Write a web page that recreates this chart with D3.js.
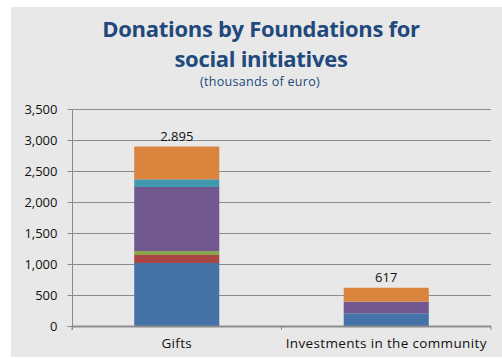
<!DOCTYPE html>
<html>
<head>
<meta charset="utf-8">
<script src="https://cdn.jsdelivr.net/npm/d3@7"></script>
<style>
  html, body { margin: 0; padding: 0; background: #ffffff; }
  svg { display: block; }
  text { font-family: "Open Sans", "DejaVu Sans", sans-serif; }
</style>
</head>
<body>
<svg id="chart" width="502" height="358"></svg>
<script>
// Donations by category, thousands of euro
const categories = ["Gifts", "Investments in the community"];
const seriesNames = ["s1", "s2", "s3", "s4", "s5", "s6"];
const seriesColors = ["#4572a7", "#aa4643", "#89a54e", "#71588f", "#4198af", "#db843d"];
// values per series, one entry per category
const s1 = [1016, 205];
const s2 = [129, 0];
const s3 = [65, 0];
const s4 = [1032, 187];
const s5 = [124, 0];
const s6 = [529, 225];
const totals = [2895, 617];
const totalLabels = ["2.895", "617"];
const yTicks = [0, 500, 1000, 1500, 2000, 2500, 3000, 3500];

const seriesValues = [s1, s2, s3, s4, s5, s6];
const rows = categories.map((c, i) => {
  const r = { category: c };
  seriesNames.forEach((n, k) => { r[n] = seriesValues[k][i]; });
  return r;
});

const svg = d3.select("#chart");
const W = 502, H = 358;

// panel background
svg.append("rect").attr("x", 11).attr("y", 7).attr("width", W - 11).attr("height", 350)
  .attr("fill", "#e8e8e8");

// titles
svg.append("text").attr("x", 261).attr("y", 37).attr("text-anchor", "middle")
  .attr("font-size", 22).attr("font-weight", 700).attr("fill", "#21497b")
  .attr("letter-spacing", "-0.3")
  .text("Donations by Foundations for");
svg.append("text").attr("x", 261).attr("y", 67).attr("text-anchor", "middle")
  .attr("font-size", 22).attr("font-weight", 700).attr("fill", "#21497b")
  .attr("letter-spacing", "-0.3")
  .text("social initiatives");
svg.append("text").attr("x", 260).attr("y", 86).attr("text-anchor", "middle")
  .attr("font-size", 12.5).attr("fill", "#21497b").attr("letter-spacing", "0.3")
  .text("(thousands of euro)");

const m = { left: 72, right: 491, top: 109, bottom: 326 };

const x = d3.scaleBand().domain(categories).range([m.left, m.right]).padding(0);
const y = d3.scaleLinear().domain([0, 3500]).range([m.bottom, m.top]);

// gridlines
svg.append("g").selectAll("line").data(yTicks.filter(t => t > 0)).join("line")
  .attr("x1", m.left).attr("x2", m.right)
  .attr("y1", d => Math.round(y(d)) + 0.5).attr("y2", d => Math.round(y(d)) + 0.5)
  .attr("stroke", "#8c8c8c").attr("stroke-width", 1);

// y axis
const yAxis = d3.axisLeft(y).tickValues(yTicks).tickSize(5).tickPadding(10)
  .tickFormat(d3.format(","));
const gy = svg.append("g").attr("transform", `translate(${m.left + 0.5},0)`).call(yAxis);
gy.select(".domain").attr("stroke", "#8c8c8c").attr("d", `M0,${m.top}V${m.bottom + 4}`);
gy.selectAll(".tick line").attr("stroke", "#8c8c8c");
gy.selectAll(".tick text").attr("font-size", 13).attr("fill", "#111")
  .attr("font-family", "'Open Sans', sans-serif");

// stacked bars
const stack = d3.stack().keys(seriesNames);
const layers = stack(rows);
const barW = x.bandwidth() * 0.406;
svg.append("g").selectAll("g").data(layers).join("g")
  .attr("fill", (d, i) => seriesColors[i])
  .selectAll("rect").data(d => d).join("rect")
  .attr("x", d => x(d.data.category) + (x.bandwidth() - barW) / 2)
  .attr("width", barW)
  .attr("y", d => y(d[1]))
  .attr("height", d => y(d[0]) - y(d[1]));

// x axis
const xAxis = d3.axisBottom(x).tickSize(0).tickPadding(12);
const gx = svg.append("g").attr("transform", `translate(0,${m.bottom})`).call(xAxis);
gx.select(".domain").remove();
gx.append("line").attr("x1", m.left).attr("x2", m.right).attr("y1", 0.5).attr("y2", 0.5)
  .attr("stroke", "#8c8c8c").attr("stroke-width", 2);
gx.selectAll(".sep").data([m.left, m.left + x.step(), m.right]).join("line")
  .attr("class", "sep")
  .attr("x1", d => d).attr("x2", d => d).attr("y1", 0).attr("y2", 4)
  .attr("stroke", "#8c8c8c");
gx.selectAll(".tick text").attr("font-size", 13.5).attr("fill", "#111")
  .attr("font-family", "'Open Sans', sans-serif").attr("letter-spacing", "0.35")
  .attr("dy", "0.71em");

// total labels
svg.append("g").selectAll("text").data(categories).join("text")
  .attr("x", d => x(d) + x.bandwidth() / 2)
  .attr("y", (d, i) => y(totals[i]) - 6)
  .attr("text-anchor", "middle").attr("font-size", 13).attr("fill", "#111")
  .text((d, i) => totalLabels[i]);
</script>
</body>
</html>
